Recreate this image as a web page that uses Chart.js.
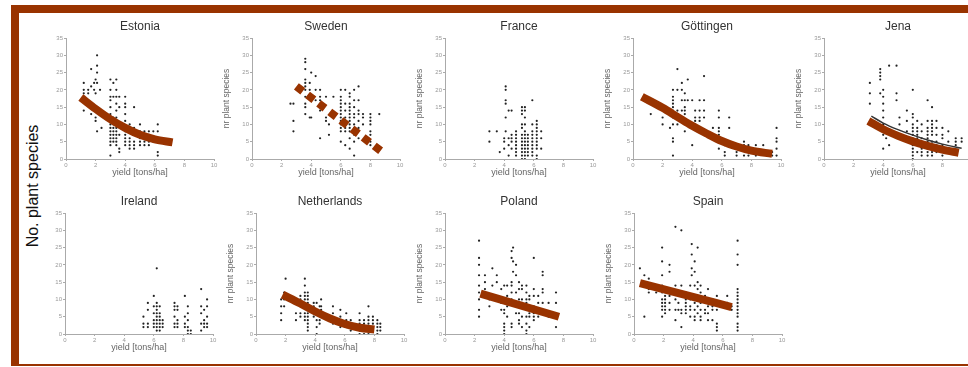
<!DOCTYPE html>
<html>
<head>
<meta charset="utf-8">
<script src="https://cdn.jsdelivr.net/npm/chart.js@4.4.1/dist/chart.umd.min.js"></script>
<style>
  html, body { margin: 0; padding: 0; background: #fff; }
  body { width: 968px; height: 367px; position: relative; overflow: hidden; font-family: "Liberation Sans", Arial, sans-serif; }
  #frame {
    position: absolute; left: 11px; top: 5px; width: 980px; height: 361px;
    box-sizing: border-box;
    border-top: 8px solid #993300; border-left: 8px solid #993300; border-bottom: 2px solid #993300;
  }
  #bigLabel {
    position: absolute; left: 33px; top: 186px; white-space: nowrap;
    transform: translate(-50%, -50%) rotate(-90deg);
    font-size: 16px; color: #111;
  }
  canvas { position: absolute; }
</style>
</head>
<body>
<div id="frame"></div>
<div id="bigLabel">No. plant species</div>

<script>
/* ===== data: [yield, [species counts at that yield]] ===== */

const estoniaCols = [
  [1.2, [22, 20, 19, 14]], [1.5, [20, 19]], [1.7, [26, 21, 13]], [1.9, [22, 20]],
  [2.0, [23, 19, 12, 11]], [2.1, [30, 27, 25, 22, 8]], [2.3, [20]], [2.4, [9]],
  [3.0, [23, 20, 18, 17, 15, 13, 11, 10, 9, 8, 7, 6, 5, 4, 1]],
  [3.2, [22, 18, 12, 10, 9, 8, 7, 6, 5]],
  [3.4, [23, 20, 18, 16, 14, 12, 10, 9, 8, 7, 6, 5, 4]],
  [3.6, [18, 15, 7, 3, 2]], [4.0, [18, 16, 15, 13, 11, 9, 8, 7, 6, 5, 4]],
  [4.3, [10, 8, 6, 5, 4, 3]], [4.6, [15, 9, 7, 5, 4, 3]], [5.0, [10, 8, 6, 5, 4]],
  [5.3, [8, 7, 6, 5, 4]], [5.6, [8, 7, 6, 5, 4]], [5.9, [8, 6, 5]], [6.2, [10, 8, 2, 1]]
];
const estoniaFitX = [1.0, 2, 3, 4, 5, 6, 7.2];
const estoniaFitY = [17.8, 14.5, 11.5, 9, 7, 5.7, 4.8];

const swedenCols = [
  [2.6, [16]], [2.8, [16, 11, 8]],
  [3.6, [29, 28, 26, 23, 22, 21, 20, 18, 16, 15, 13]],
  [3.9, [22, 20, 12]], [4.0, [25, 12]], [4.3, [24, 20, 17]], [4.6, [20, 18, 17, 15, 14, 6]],
  [5.0, [18, 12, 11]], [5.2, [10, 7]], [5.5, [18, 13]],
  [6.0, [20, 18, 17, 16, 15, 14, 13, 12, 11, 10, 9, 8, 5]],
  [6.3, [20, 16, 14, 12, 11, 9, 8, 4]],
  [6.6, [19, 18, 16, 15, 14, 13, 12, 11, 10, 9, 8, 6, 3]],
  [6.9, [20, 17, 15, 13, 12, 10, 9, 8, 7, 5, 1]],
  [7.2, [21, 17, 14, 13, 11, 9, 6]], [7.5, [13, 12, 10]],
  [8.0, [13, 12, 11, 10, 8, 7, 5, 4]], [8.6, [13]]
];
const swedenFitX = [3.0, 8.9];
const swedenFitY = [21, 1.7];

const franceCols = [
  [3.0, [8, 5]], [3.5, [8]], [3.7, [2]], [4.0, [6, 5, 3]], [4.1, [21, 20, 17, 16, 12, 8]],
  [4.3, [14, 6, 4, 1]], [4.5, [14, 7, 6, 5, 3]], [4.8, [8, 7, 6, 5, 4, 3, 2, 1]],
  [5.2, [15, 14, 13, 10, 9, 7, 6, 5, 4, 3, 2, 1, 0]],
  [5.4, [15, 14, 12, 10, 8, 7, 6, 5, 4, 3, 2, 1, 0]],
  [5.6, [7, 6, 5, 4, 3, 2, 1]], [5.9, [17, 10, 8, 7, 6, 5, 4, 3, 2, 1]],
  [6.2, [11, 10, 9, 8, 7, 6, 5, 4, 3, 1, 0]], [6.5, [8, 6, 3]]
];

const gottingenCols = [
  [1.2, [13]], [2.0, [12, 10]], [2.5, [9]],
  [2.7, [20, 18, 17, 16, 15, 14, 13, 12, 10, 6, 5, 1]],
  [3.0, [26, 20, 14, 10]], [3.3, [22, 20, 17, 14, 12]], [3.5, [19, 17, 15, 14, 13, 11, 8]],
  [3.7, [23, 17]], [4.0, [17, 4]], [4.2, [14, 12, 11, 10, 9]], [4.5, [17, 14, 12, 11, 9]],
  [4.8, [24, 17, 14, 12]], [5.4, [9, 7]], [5.8, [14, 12, 9, 8, 7, 5, 3]], [6.2, [4, 2, 1]],
  [6.5, [12, 9]], [7.0, [2, 1]], [7.5, [5, 4, 3, 1]], [7.8, [4, 3, 2, 1]], [8.3, [4, 2, 1]],
  [8.8, [4, 2]], [9.4, [2, 1]], [9.7, [9, 6, 5, 3, 1]]
];
const gottingenFitX = [0.6, 2, 3, 4, 5, 6, 7, 8, 9.4];
const gottingenFitY = [18, 14.8, 12.2, 9.6, 7.3, 5.2, 3.6, 2.4, 1.5];

const jenaCols = [
  [3.1, [22, 19, 16]], [3.8, [26, 25, 24, 23, 19]], [4.0, [20, 18, 16, 14, 12, 10, 9, 7, 3]],
  [4.2, [6]], [4.4, [27, 8, 4]], [4.9, [27, 19, 17]], [5.1, [12, 10]], [5.6, [14, 11, 8]],
  [6.0, [20, 13, 12, 10, 9, 8, 7, 6, 5, 4, 3, 2, 1, 0]], [6.3, [11, 9, 8, 7, 6, 4, 2]],
  [6.6, [10, 8, 6, 5, 4, 3, 2, 1]], [7.0, [17, 11, 9, 8, 7, 6, 5, 4, 3, 2, 1]],
  [7.3, [15, 11, 10, 9, 8, 7, 5, 4, 2, 1]], [7.6, [11, 9, 7, 5, 4, 2]],
  [8.0, [9, 7, 6, 4, 3, 1]], [8.4, [8, 5, 3, 2]], [8.9, [6, 5, 4]], [9.3, [6, 5]]
];
const jenaFitX = [3.0, 4, 5, 6, 7, 8, 9.1];
const jenaFitY = [11, 8.6, 6.7, 5.1, 3.8, 2.7, 1.8];
const jenaFit2X = [3.2, 4, 5, 6, 7, 8, 9.3];
const jenaFit2Y = [12.4, 10.4, 8.5, 6.9, 5.5, 4.3, 3.1];

const irelandCols = [
  [5.3, [5, 3, 2]], [5.6, [9, 7, 3, 2]], [6.0, [11, 8, 6, 4, 3, 2]],
  [6.2, [19, 9, 8, 7, 6, 5, 4, 3, 2, 1]], [6.4, [8, 6, 5, 4, 3, 2, 1]], [6.6, [4, 3, 2]],
  [7.4, [9, 8, 7, 5, 3, 2]], [7.6, [8, 7, 4, 3, 2]], [8.1, [11, 5, 3, 2]],
  [8.3, [8, 6, 4, 2, 1, 0]], [8.5, [1, 0]], [9.2, [13, 8, 6, 3, 1]], [9.4, [7, 4, 3, 2]],
  [9.6, [10, 8, 5, 3, 2]]
];

const netherlandsCols = [
  [1.7, [10, 8, 6, 4]], [1.9, [12, 10, 8]], [2.0, [16]], [2.7, [6, 4]], [3.0, [11, 10, 8, 6, 5]],
  [3.3, [16, 14, 12, 11, 10, 8, 6, 5, 4]], [3.5, [12, 11, 10, 9, 8, 7, 6, 5, 4, 3, 2, 1]],
  [3.9, [9, 8, 7, 5]], [4.1, [9, 6, 4, 2, 0]], [4.3, [8, 6, 4, 3]], [4.4, [10, 8, 7]],
  [5.2, [8, 6, 4, 3]], [5.7, [7, 5, 4, 3, 2]], [6.1, [6, 4, 3, 2]], [6.4, [4, 3, 2, 1]],
  [7.0, [6, 4, 3, 2, 1, 0]], [7.3, [4, 3, 2, 1, 0]], [7.6, [8, 5, 4, 3, 2, 1, 0]],
  [7.9, [5, 4, 3, 2, 1]], [8.2, [4, 3, 2, 1, 0]], [8.4, [3, 2, 1]]
];
const netherlandsFitX = [1.8, 3, 4, 5, 6, 7, 8];
const netherlandsFitY = [11.4, 8.8, 6.5, 4.5, 2.9, 1.8, 1.3];

const polandCols = [
  [2.3, [27, 22, 20, 17, 14, 12, 10, 7, 5]], [2.7, [17, 15, 13, 11]], [3.0, [10, 8]],
  [3.2, [19, 14]], [3.5, [17, 15]], [3.8, [13, 9, 7]], [4.0, [14, 7, 6, 3, 2, 1, 0]],
  [4.2, [14, 11, 8, 5]], [4.5, [24, 22, 15, 14, 12, 10, 3, 2]], [4.6, [25, 21, 18]],
  [4.8, [20, 17, 12, 9, 6]], [5.0, [15, 13, 10, 8, 6, 4, 3]], [5.2, [14, 13, 10, 9, 8, 5, 2]],
  [5.5, [14, 12, 10, 9, 7, 5, 3, 1, 0]], [5.7, [11, 10, 8, 6, 5, 2]],
  [6.0, [22, 13, 11, 8, 6, 5, 4]], [6.3, [11, 9, 7, 5]], [6.6, [18, 17, 13, 12, 9, 6]],
  [7.0, [9, 5]], [7.5, [12, 9, 2]]
];
const polandFitX = [2.4, 7.7];
const polandFitY = [11.7, 5.0];

const spainCols = [
  [0.4, [19]], [0.7, [17, 15, 14, 5]], [1.0, [16, 13, 12]], [1.5, [12]],
  [1.9, [25, 21, 17, 14, 12, 10, 9, 8, 7, 5]], [2.1, [11, 10, 9, 8, 7, 6]],
  [2.4, [20, 18, 11, 9, 7]], [2.8, [31, 14, 12, 10, 7, 4]], [3.0, [9, 7]],
  [3.2, [30, 14, 11, 7, 6, 2]], [3.5, [12, 10, 9, 8, 7, 6]], [3.8, [14, 10, 8, 7, 5]],
  [3.9, [26, 23, 19, 17]], [4.1, [21, 18, 14, 11, 9, 7, 5, 4]], [4.3, [25, 15, 13, 10, 8, 6]],
  [4.5, [14, 12, 10, 9, 7, 5, 4]], [4.8, [11, 10, 9, 7, 6]], [5.0, [13, 9, 8, 6, 4]],
  [5.3, [10, 9, 8, 7, 4]], [5.6, [11, 9, 7, 3, 2, 1]], [6.0, [8]], [6.3, [11, 9]],
  [6.6, [8, 7]], [7.0, [27, 23, 20, 13, 12, 11, 10, 9, 8, 7, 6, 5, 3, 2, 1]]
];
const spainFitX = [0.4, 6.6];
const spainFitY = [14.7, 7.8];

const xTicks = [0, 2, 4, 6, 8, 10];
const yTicks = [0, 5, 10, 15, 20, 25, 30, 35];

/* ===== layout / style ===== */

const BROWN = '#993300';
Chart.defaults.font.family = '"Liberation Sans", Arial, sans-serif';

// each canvas: plot area at (40,30), 148 x 121
// panel title is the title of an empty top axis, so it centres over the plot
const panels = [
  { title: 'Estonia', left: 26, top: 8, cols: estoniaCols, fits: [[estoniaFitX, estoniaFitY]], yTitle: false },
  { title: 'Sweden', left: 212, top: 8, cols: swedenCols, fits: [[swedenFitX, swedenFitY, 'dash']], yTitle: true },
  { title: 'France', left: 405, top: 8, cols: franceCols, fits: [], yTitle: true },
  { title: 'Göttingen', left: 593, top: 8, cols: gottingenCols, fits: [[gottingenFitX, gottingenFitY]], yTitle: true },
  { title: 'Jena', left: 784, top: 8, cols: jenaCols, fits: [[jenaFitX, jenaFitY], [jenaFit2X, jenaFit2Y, 'thin']], yTitle: true },
  { title: 'Ireland', left: 25, top: 183, cols: irelandCols, fits: [], yTitle: false },
  { title: 'Netherlands', left: 216, top: 183, cols: netherlandsCols, fits: [[netherlandsFitX, netherlandsFitY]], yTitle: true },
  { title: 'Poland', left: 405, top: 183, cols: polandCols, fits: [[polandFitX, polandFitY]], yTitle: true },
  { title: 'Spain', left: 594, top: 183, cols: spainCols, fits: [[spainFitX, spainFitY]], yTitle: true }
];

function expand(cols) {
  const out = [];
  cols.forEach(([x, ys]) => ys.forEach(y => out.push({ x, y })));
  return out;
}

function fitDataset(fx, fy, kind) {
  const data = fx.map((x, i) => ({ x, y: fy[i] }));
  const ds = {
    type: 'line', data, pointRadius: 0, order: 0, xAxisID: 'x', yAxisID: 'y',
    borderColor: BROWN, borderWidth: 8, borderCapStyle: 'butt',
    cubicInterpolationMode: 'monotone', fill: false
  };
  if (kind === 'dash') ds.borderDash = [8, 6];
  if (kind === 'thin') { ds.borderColor = '#333'; ds.borderWidth = 1.5; ds.order = -1; }
  return ds;
}

panels.forEach(p => {
  const canvas = document.createElement('canvas');
  canvas.width = 200; canvas.height = 175;
  canvas.style.left = p.left + 'px';
  canvas.style.top = p.top + 'px';
  document.body.appendChild(canvas);

  const datasets = [{
    type: 'scatter', data: expand(p.cols), order: 1, xAxisID: 'x', yAxisID: 'y',
    pointRadius: 1.1, pointBorderWidth: 0, backgroundColor: '#222'
  }];
  p.fits.forEach(f => datasets.push(fitDataset(f[0], f[1], f[2])));

  new Chart(canvas.getContext('2d'), {
    type: 'scatter',
    data: { datasets },
    options: {
      responsive: false,
      animation: false,
      events: [],
      layout: { padding: { left: 0, right: 12, top: 0, bottom: 0 } },
      plugins: {
        legend: { display: false },
        tooltip: { enabled: false },
        title: { display: false }
      },
      scales: {
        x: {
          type: 'linear', min: 0, max: 10,
          afterFit: s => { s.height = 24; },
          afterBuildTicks: s => { s.ticks = xTicks.map(v => ({ value: v })); },
          grid: { drawOnChartArea: false, drawTicks: true, tickLength: 2, color: '#aaa' },
          border: { color: '#aaa' },
          ticks: { color: '#999', font: { size: 6 }, padding: 1, maxRotation: 0 },
          title: {
            display: true, text: 'yield [tons/ha]', color: '#666',
            font: { size: 9 }, padding: { top: 0, bottom: 4.6 }
          }
        },
        xTop: {
          type: 'linear', position: 'top', min: 0, max: 10,
          afterFit: s => { s.height = 30; },
          grid: { display: false, drawTicks: false },
          border: { display: false },
          ticks: { display: false },
          title: {
            display: true, text: p.title, color: '#333',
            font: { size: 12 }, padding: { top: 11.5, bottom: 0 }
          }
        },
        y: {
          type: 'linear', min: 0, max: 35,
          afterFit: s => { s.width = 40; },
          afterBuildTicks: s => { s.ticks = yTicks.map(v => ({ value: v })); },
          grid: { drawOnChartArea: false, drawTicks: true, tickLength: 2, color: '#aaa' },
          border: { color: '#aaa' },
          ticks: { color: '#999', font: { size: 6 }, padding: 1 },
          title: {
            display: p.yTitle, text: 'nr plant species', color: '#666',
            font: { size: 8.5 }, padding: { top: 10, bottom: 0 }
          }
        }
      }
    }
  });
});
</script>
</body>
</html>
